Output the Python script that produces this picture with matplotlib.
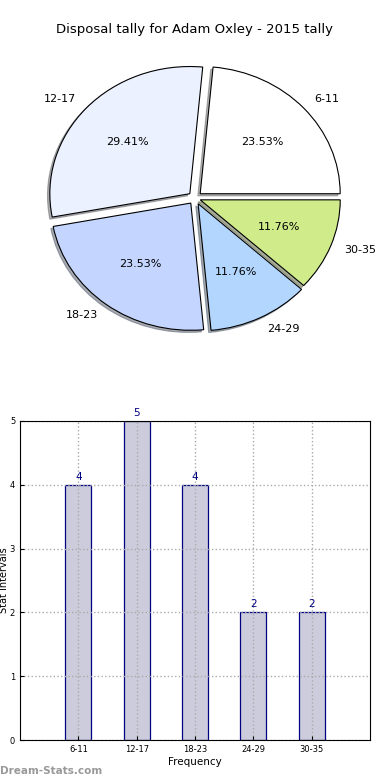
import matplotlib
matplotlib.use('Agg')
import matplotlib.pyplot as plt

# data
labels = ['6-11', '12-17', '18-23', '24-29', '30-35']
counts = [4, 5, 4, 2, 2]
pie_colors = ['#ffffff', '#ebf1ff', '#c4d6ff', '#b3d6ff', '#cfeb8a']
explode = [0.05, 0.05, 0.05, 0.05, 0.04]

fig = plt.figure(figsize=(3.9, 7.8), dpi=100)

# pie
ax1 = fig.add_axes([20 / 390, 1 - 357 / 780, 350 / 390, 318 / 780])
wedges, texts, autotexts = ax1.pie(counts, labels=labels, colors=pie_colors, explode=explode,
                                   autopct='%1.2f%%', shadow={'ox': -0.012, 'oy': -0.012, 'shade': 0.6},
                                   startangle=0, labeldistance=1.1, pctdistance=0.6,
                                   wedgeprops={'edgecolor': 'black', 'linewidth': 0.8},
                                   textprops={'fontsize': 8})
ax1.set_aspect('auto')
ax1.set_xlim(-1.25, 1.25)
ax1.set_ylim(-1.25, 1.25)
ax1.axis('off')
fig.text(0.5, 1 - 30 / 780, 'Disposal tally for Adam Oxley - 2015 tally', ha='center', va='center', fontsize=9.5)

# bars
ax2 = fig.add_axes([20 / 390, 40 / 780, 350 / 390, 319 / 780])
x = range(len(labels))
bars = ax2.bar(x, counts, width=0.45, color='#ccccdd', edgecolor='navy', linewidth=0.9, zorder=1)
for b, c in zip(bars, counts):
    ax2.text(b.get_x() + b.get_width() / 2, c + 0.05, str(c), ha='center', va='bottom',
             color='navy', fontsize=7.5)
ax2.set_xlim(-1, 5)
ax2.set_ylim(0, 5)
ax2.set_xticks(list(x))
ax2.set_xticklabels(labels)
ax2.set_yticks(range(6))
ax2.tick_params(labelsize=6, direction='in', length=3)
ax2.set_axisbelow('line')
ax2.grid(True, linestyle=':', color='#aaaaaa', linewidth=1)
ax2.set_xlabel('Frequency', fontsize=7.5, labelpad=2)
ax2.set_ylabel('Stat Intervals', fontsize=7)
ax2.yaxis.set_label_coords(-0.032, 0.5)

fig.text(0.0, 1 - 771 / 780, 'Dream-Stats.com', color='#999999', fontsize=7.5, fontweight='bold',
         ha='left', va='center')

fig.savefig('out.png', dpi=100)
